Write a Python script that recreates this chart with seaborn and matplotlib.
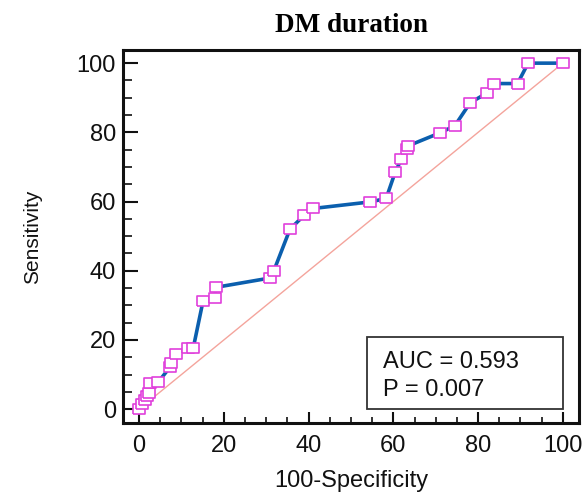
import numpy as np
import pandas as pd
import matplotlib
matplotlib.use("Agg")
import matplotlib.pyplot as plt
import seaborn as sns
from matplotlib.patches import Rectangle
from matplotlib.ticker import MultipleLocator

# ROC curve points for DM duration (100-specificity vs sensitivity, %)
fpr = [0, 0.8, 1.3, 1.8, 2.4, 2.6, 4.5, 7.4, 7.5, 8.7, 11.6, 12.8, 15.1, 17.8,
       18.1, 30.9, 31.8, 35.6, 39.0, 41.1, 54.6, 58.3, 60.4, 61.9, 63.3, 63.5,
       71.1, 74.5, 78.1, 82.1, 83.7, 89.3, 91.8, 100]
tpr = [0, 1.4, 2.6, 3.8, 4.8, 7.6, 7.8, 12.3, 13.4, 16.0, 17.8, 17.8, 31.3, 32.2,
       35.2, 37.9, 40.0, 52.0, 56.1, 58.0, 59.9, 60.9, 68.4, 72.3, 75.1, 76.1,
       79.9, 81.9, 88.5, 91.4, 94.1, 94.1, 100, 100]
chance = [0, 100]
auc_text = "AUC = 0.593"
p_text = "P = 0.007"

sns.set_theme(style="white")
plt.rcParams["font.family"] = ["Liberation Sans", "DejaVu Sans"]

fig = plt.figure(figsize=(5.84, 4.95), dpi=100)
ax = fig.add_axes([0.2106, 0.1455, 0.7808, 0.7535])

roc = pd.DataFrame({"fpr": fpr, "tpr": tpr})
ref = pd.DataFrame({"x": chance, "y": chance})

sns.lineplot(data=ref, x="x", y="y", ax=ax, color="#f4a49c", lw=1.0, zorder=1)

# slightly wide open square marker
square = [(-1.25, -1), (1.25, -1), (1.25, 1), (-1.25, 1), (-1.25, -1)]
sns.lineplot(data=roc, x="fpr", y="tpr", ax=ax, sort=False, estimator=None,
             color="#0b5fae", lw=2.6, marker=square, markersize=8.5,
             markerfacecolor="white", markeredgecolor="#e040dc",
             markeredgewidth=1.2, zorder=3)

ax.set_xlim(-3.8, 103.8)
ax.set_ylim(-4.0, 103.8)
ax.xaxis.set_major_locator(MultipleLocator(20))
ax.xaxis.set_minor_locator(MultipleLocator(5))
ax.yaxis.set_major_locator(MultipleLocator(20))
ax.yaxis.set_minor_locator(MultipleLocator(5))

for s in ax.spines.values():
    s.set_linewidth(2.2)
    s.set_color("#111111")

ax.tick_params(axis="x", which="major", direction="in", length=7.7, width=1.5,
               bottom=True, labelsize=17, pad=9, colors="#111111")
ax.tick_params(axis="x", which="minor", direction="in", length=4, width=1.2,
               bottom=True, colors="#111111")
ax.tick_params(axis="y", which="major", direction="in", length=11, width=1.5,
               left=True, labelsize=17, pad=5, colors="#111111")
ax.tick_params(axis="y", which="minor", direction="in", length=6.5, width=1.2,
               left=True, colors="#111111")

ax.set_xlabel("100-Specificity", fontsize=17, labelpad=9, color="#111111")
ax.set_ylabel("Sensitivity", fontsize=15, labelpad=25, color="#111111")
ax.set_title("DM duration", fontsize=19.5, fontweight="bold", color="black",
             family=["Liberation Serif", "DejaVu Serif"], pad=13)

# AUC summary box
ax.add_patch(Rectangle((53.8, 0), 46.2, 20.8, fill=False, edgecolor="#333333",
                       lw=1.3, zorder=4))
ax.text(57.5, 13.7, auc_text, fontsize=17, va="center", ha="left",
        color="#111111", zorder=5)
ax.text(57.5, 5.6, p_text, fontsize=17, va="center", ha="left",
        color="#111111", zorder=5)

fig.savefig("out.png", dpi=100)
